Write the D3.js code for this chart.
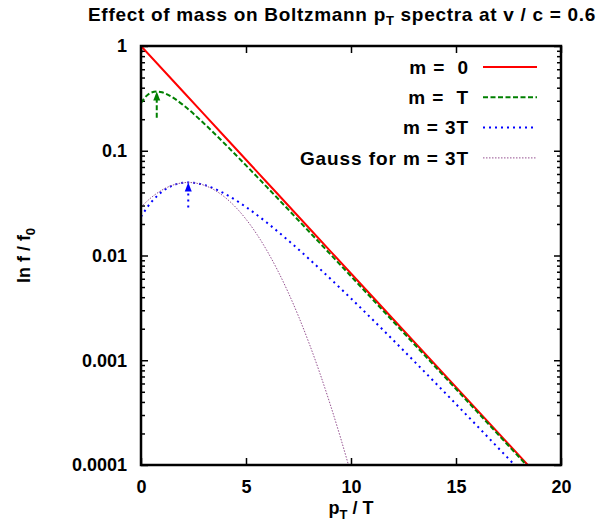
<!DOCTYPE html>
<html>
<head>
<meta charset="utf-8">
<script src="https://cdn.jsdelivr.net/npm/d3@7"></script>
<style>
  body { margin: 0; background: #fff; }
  text { font-family: "Liberation Sans", Arial, sans-serif; font-weight: bold; }
</style>
</head>
<body>
<div id="container"></div>
<script>
// p_T / T sample points and f / f0 values
const pZero = [0, 2, 4, 6, 8, 10, 12, 14, 16, 18, 20];
const fZero = [1, 0.3679, 0.1353, 0.04979, 0.01832, 0.006738, 0.002479, 0.000912, 0.0003355, 0.0001234, 0.0000454];

const pT1 = [0, 0.25, 0.5, 0.75, 1, 1.5, 2, 3, 4, 5, 6, 8, 10, 12, 14, 16, 18, 20];
const fT1 = [0.2865, 0.3325, 0.3597, 0.3679, 0.3614, 0.3235, 0.2739, 0.1822, 0.116, 0.07253, 0.0449,
  0.01694, 0.006335, 0.002354, 0.000872, 0.000323, 0.0001192, 0.000044];

const pT3 = [0, 0.5, 1, 1.5, 2, 2.25, 2.5, 3, 4, 5, 6, 7, 8, 10, 12, 14, 16, 18, 20];
const fT3 = [0.02352, 0.03249, 0.04064, 0.04653, 0.04944, 0.04979, 0.04947, 0.0472, 0.03877, 0.02905,
  0.02055, 0.01399, 0.009279, 0.003888, 0.001564, 0.000613, 0.0002367, 0.0000903, 0.0000343];

const pGauss = [0, 0.5, 1, 1.5, 2, 2.25, 2.5, 3, 3.5, 4, 4.5, 5, 5.5, 6, 6.5, 7, 7.5, 8, 8.5, 9, 9.5, 10];
const fGauss = [0.02901, 0.0359, 0.04215, 0.04689, 0.04946, 0.04979, 0.04946, 0.04689, 0.04215, 0.0359,
  0.02901, 0.02221, 0.01613, 0.0111, 0.007247, 0.004484, 0.002629, 0.001461, 0.00077, 0.000385,
  0.0001826, 0.0000821];

// peak arrows: x position, tail value, head value
const arrowX = [0.75, 2.25];
const arrowFrom = [0.206, 0.0288];
const arrowTo = [0.368, 0.0498];

const xTicks = [0, 5, 10, 15, 20];
const yTicks = [1, 0.1, 0.01, 0.001, 0.0001];
const yTickLabels = ["1", "0.1", "0.01", "0.001", "0.0001"];

const legendLabels = ["m =  0", "m =  T", "m = 3T", "Gauss for m = 3T"];

const series = [
  { p: pZero, f: fZero, color: "#ff0000", width: 2, dash: null },
  { p: pT1, f: fT1, color: "#008000", width: 2, dash: "5,2.5" },
  { p: pT3, f: fT3, color: "#0000ff", width: 2, dash: "2,4" },
  { p: pGauss, f: fGauss, color: "#94508f", width: 1, dash: "1.5,1.5" }
];

const width = 602, height = 525;
const plotLeft = 141, plotRight = 561, plotTop = 46, plotBottom = 465;

const svg = d3.select("#container").append("svg")
  .attr("width", width).attr("height", height);

const x = d3.scaleLinear().domain([0, 20]).range([plotLeft, plotRight]);
const y = d3.scaleLog().domain([0.0001, 1]).range([plotBottom, plotTop]);

svg.append("defs").append("clipPath").attr("id", "clip")
  .append("rect").attr("x", plotLeft).attr("y", plotTop)
  .attr("width", plotRight - plotLeft).attr("height", plotBottom - plotTop);

// minor ticks for the log axis
const minor = [];
for (let e = -4; e < 0; e++) {
  for (let k = 2; k <= 9; k++) minor.push(k * Math.pow(10, e));
}

const tickStyle = (g) => {
  g.select(".domain").remove();
  g.selectAll("line").attr("stroke", "#000").attr("stroke-width", 1.5);
  g.selectAll("text").attr("font-size", 18).attr("fill", "#000");
};

svg.append("g").attr("transform", `translate(0,${plotBottom})`)
  .call(d3.axisBottom(x).tickValues(xTicks).tickSize(-7).tickPadding(15).tickFormat(d3.format("d")))
  .call(tickStyle);
svg.append("g").attr("transform", `translate(0,${plotTop})`)
  .call(d3.axisTop(x).tickValues(xTicks).tickSize(-7).tickFormat(""))
  .call(tickStyle);

svg.append("g").attr("transform", `translate(${plotLeft},0)`)
  .call(d3.axisLeft(y).tickValues(yTicks).tickSize(-7).tickPadding(14)
    .tickFormat((d, i) => yTickLabels[i]))
  .call(tickStyle);
svg.append("g").attr("transform", `translate(${plotLeft},0)`)
  .call(d3.axisLeft(y).tickValues(minor).tickSize(-4).tickFormat(""))
  .call(tickStyle);
svg.append("g").attr("transform", `translate(${plotRight},0)`)
  .call(d3.axisRight(y).tickValues(yTicks).tickSize(-7).tickFormat(""))
  .call(tickStyle);
svg.append("g").attr("transform", `translate(${plotRight},0)`)
  .call(d3.axisRight(y).tickValues(minor).tickSize(-4).tickFormat(""))
  .call(tickStyle);

// curves
const line = d3.line().x((d) => x(d[0])).y((d) => y(d[1])).curve(d3.curveMonotoneX);
const plot = svg.append("g").attr("clip-path", "url(#clip)");
series.forEach((s) => {
  plot.append("path")
    .attr("d", line(s.p.map((p, i) => [p, s.f[i]])))
    .attr("fill", "none")
    .attr("stroke", s.color)
    .attr("stroke-width", s.width)
    .attr("stroke-dasharray", s.dash);
});

// peak arrows
arrowX.forEach((ax, i) => {
  const s = series[i + 1];
  const x0 = x(ax), yTail = y(arrowFrom[i]), yHead = y(arrowTo[i]);
  plot.append("line")
    .attr("x1", x0).attr("x2", x0).attr("y1", yTail).attr("y2", yHead + 6)
    .attr("stroke", s.color).attr("stroke-width", 2).attr("stroke-dasharray", s.dash);
  plot.append("path")
    .attr("d", `M${x0},${yHead} L${x0 - 3.5},${yHead + 9} L${x0 + 3.5},${yHead + 9} Z`)
    .attr("fill", s.color);
});

// frame
svg.append("rect")
  .attr("x", plotLeft).attr("y", plotTop)
  .attr("width", plotRight - plotLeft).attr("height", plotBottom - plotTop)
  .attr("fill", "none").attr("stroke", "#000").attr("stroke-width", 2.5);

// legend
const legend = svg.append("g");
legendLabels.forEach((label, i) => {
  const ly = 67 + i * 30.3;
  legend.append("text")
    .attr("x", 469).attr("y", ly).attr("dy", "0.35em")
    .attr("text-anchor", "end").attr("font-size", 19)
    .attr("letter-spacing", 0.9)
    .style("white-space", "pre")
    .text(label);
  legend.append("line")
    .attr("x1", 483).attr("x2", 537).attr("y1", ly).attr("y2", ly)
    .attr("stroke", series[i].color)
    .attr("stroke-width", series[i].width)
    .attr("stroke-dasharray", series[i].dash);
});

// title
const title = svg.append("text")
  .attr("x", 88).attr("y", 21)
  .attr("font-size", 19).attr("letter-spacing", 0.7);
title.append("tspan").text("Effect of mass on Boltzmann p");
title.append("tspan").attr("dy", 4).attr("font-size", 13).text("T");
title.append("tspan").attr("dy", -4).text(" spectra at v / c = 0.6");

// axis labels
const xLabel = svg.append("text")
  .attr("x", (plotLeft + plotRight) / 2).attr("y", 514)
  .attr("text-anchor", "middle").attr("font-size", 18);
xLabel.append("tspan").text("p");
xLabel.append("tspan").attr("dy", 5).attr("font-size", 13).text("T");
xLabel.append("tspan").attr("dy", -5).text(" / T");

const yLabel = svg.append("text")
  .attr("transform", `translate(30,${(plotTop + plotBottom) / 2}) rotate(-90)`)
  .attr("text-anchor", "middle").attr("font-size", 18);
yLabel.append("tspan").text("ln f / f");
yLabel.append("tspan").attr("dy", 5).attr("font-size", 13).text("0");
</script>
</body>
</html>
